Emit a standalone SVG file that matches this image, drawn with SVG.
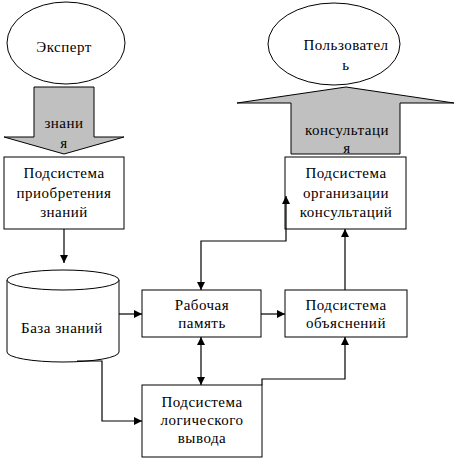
<svg xmlns="http://www.w3.org/2000/svg" width="454" height="458" viewBox="0 0 454 458">
<style>
.sh{fill:#fff;stroke:#000;stroke-width:1}
.ga{fill:#c0c0c0;stroke:#000;stroke-width:1}
.t{font-family:'Liberation Serif',serif;font-size:15px;fill:#000;text-anchor:middle;letter-spacing:0.5px}
.c{fill:none;stroke:#000;stroke-width:1.2}
</style>
<defs>
<marker id="ah" viewBox="0 0 8 8" refX="8" refY="4" markerWidth="8" markerHeight="8" markerUnits="userSpaceOnUse" orient="auto-start-reverse">
<path d="M0,0 L8,4 L0,8 Z" fill="#000"/>
</marker>
</defs>
<rect width="454" height="458" fill="#fff"/>
<g id="expert">
<ellipse class="sh" cx="66" cy="43" rx="59" ry="41"/>
<text class="t" x="64" y="52">Эксперт</text>
</g>
<g id="arrow-znaniya">
<path class="ga" d="M34,87 L94,87 L94,137 L124,137 L64,154 L4,137 L34,137 Z"/>
<text class="t" x="64" y="128">знани</text>
<text class="t" x="64" y="148">я</text>
</g>
<g id="user">
<ellipse class="sh" cx="334" cy="44" rx="66" ry="41"/>
<text class="t" x="346" y="50">Пользовател</text>
<text class="t" x="346" y="70">ь</text>
</g>
<g id="arrow-consult">
<path class="ga" d="M291,154 L291,103 L237,103 L346,87 L454,103 L400,103 L400,154 Z"/>
<text class="t" x="347" y="135">консультаци</text>
<text class="t" x="347" y="153">я</text>
</g>
<g id="acquisition">
<rect class="sh" x="4" y="157" width="120" height="72"/>
<text class="t" x="64" y="178">Подсистема</text>
<text class="t" x="64" y="198">приобретения</text>
<text class="t" x="64" y="217">знаний</text>
</g>
<g id="consultation">
<rect class="sh" x="285" y="157" width="121" height="72"/>
<text class="t" x="346" y="178">Подсистема</text>
<text class="t" x="346" y="198">организации</text>
<text class="t" x="346" y="217">консультаций</text>
</g>
<g id="knowledge-base">
<path class="sh" d="M7,280 L7,352 A56,10 0 0 0 119,352 L119,280"/>
<ellipse class="sh" cx="63" cy="280" rx="56" ry="10"/>
<text class="t" x="62" y="333">База знаний</text>
</g>
<g id="working-memory">
<rect class="sh" x="142" y="290" width="119" height="47"/>
<text class="t" x="202" y="310">Рабочая</text>
<text class="t" x="202" y="328">память</text>
</g>
<g id="explanation">
<rect class="sh" x="285" y="290" width="122" height="47"/>
<text class="t" x="346" y="310">Подсистема</text>
<text class="t" x="346" y="328">объяснений</text>
</g>
<g id="inference">
<rect class="sh" x="142" y="385" width="120" height="72"/>
<text class="t" x="202" y="407">Подсистема</text>
<text class="t" x="202" y="425">логического</text>
<text class="t" x="202" y="443">вывода</text>
</g>
<g id="connectors">
<path class="c" d="M64,229 L64,263" marker-end="url(#ah)"/>
<path class="c" d="M119,314 L142,314" marker-end="url(#ah)"/>
<path class="c" d="M77,361 L102,361 L102,421 L142,421" marker-end="url(#ah)"/>
<path class="c" d="M201,290 L201,241 L286,241 L286,196" marker-start="url(#ah)" marker-end="url(#ah)"/>
<path class="c" d="M201,337 L201,385" marker-start="url(#ah)" marker-end="url(#ah)"/>
<path class="c" d="M261,314 L285,314" marker-end="url(#ah)"/>
<path class="c" d="M345,290 L345,229" marker-end="url(#ah)"/>
<path class="c" d="M262,385 L262,379 L345,379 L345,337" marker-end="url(#ah)"/>
</g>
</svg>
